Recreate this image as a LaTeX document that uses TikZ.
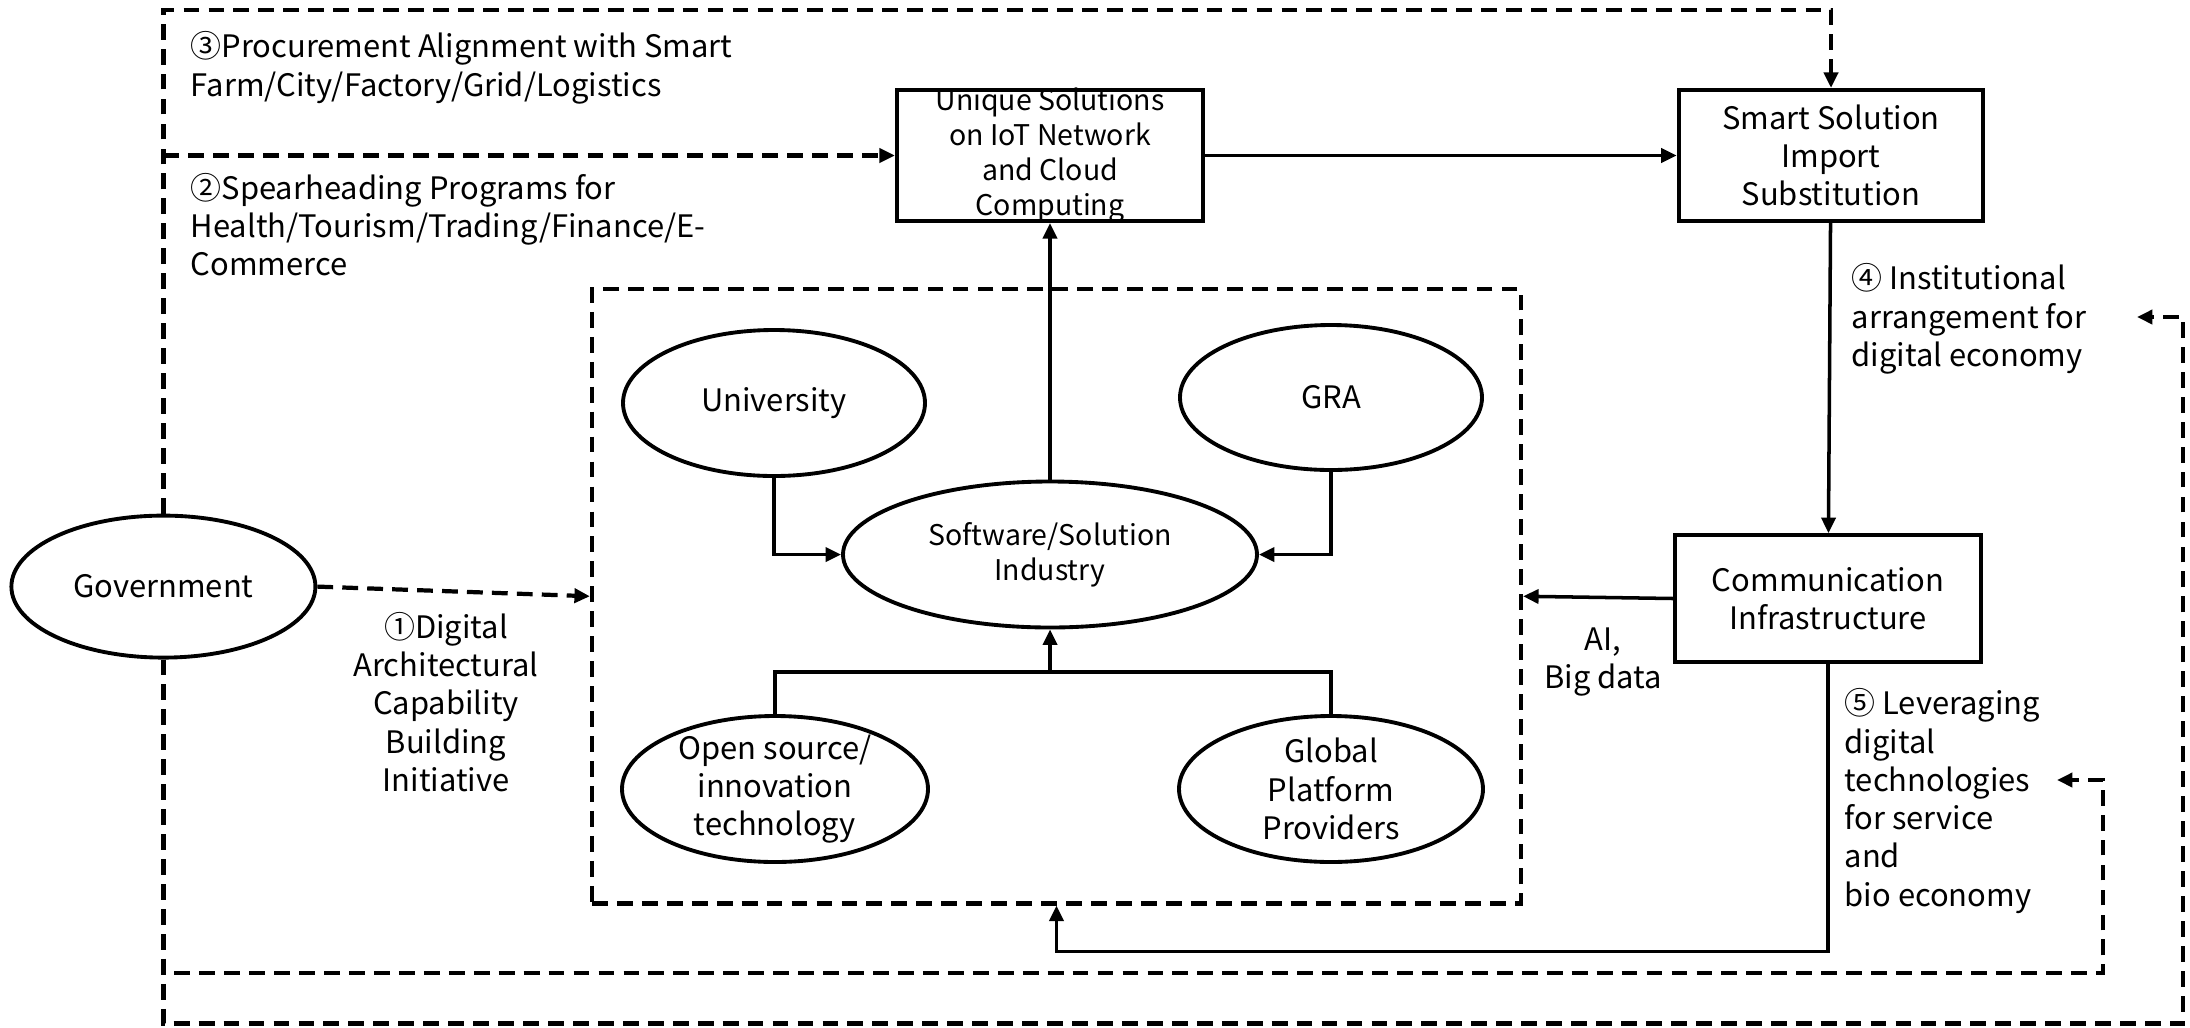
\documentclass[tikz,border=0pt]{standalone}
\usepackage{fontspec}
\setmainfont{Noto Sans CJK KR}
\usetikzlibrary{shapes.geometric,arrows.meta}

\tikzset{
  >={Triangle[length=4.4pt,width=4pt]},
  txt/.style={font=\fontsize{8.8}{10.9}\selectfont},
  smalltxt/.style={font=\fontsize{8.1}{9.95}\selectfont},
  box/.style={draw, line width=1.2pt, rectangle, inner sep=0pt, align=center, txt},
  blob/.style={draw, line width=1.1pt, ellipse, inner sep=-1.5pt, align=center, txt},
  conn/.style={line width=1pt, ->},
  dashconn/.style={line width=1.2pt, dash pattern=on 4.5pt off 2.6pt},
  lbl/.style={inner sep=0pt, txt}
}

\begin{document}
\begin{tikzpicture}[x=1cm, y=-1cm]
\useasboundingbox (0,0) rectangle (21.9,10.27);

% main blocks
\node[blob, minimum width=3.04cm, minimum height=1.42cm] (gov) at (1.634,5.866) {Government};
\node[box, smalltxt, inner ysep=-1.5pt, minimum width=3.06cm, minimum height=1.31cm] (unique) at (10.50,1.555) {Unique Solutions\\on IoT Network\\and Cloud\\Computing};
\node[box, minimum width=3.045cm, minimum height=1.31cm] (smart) at (18.31,1.555) {Smart Solution\\Import\\Substitution};
\node[box, minimum width=3.06cm, minimum height=1.265cm] (comm) at (18.28,5.985) {Communication\\Infrastructure};

% ecosystem
\node[draw, dashconn, inner sep=0pt, minimum width=9.29cm, minimum height=6.145cm] (cluster) at (10.565,5.9625) {};
\node[blob, smalltxt, minimum width=4.14cm, minimum height=1.46cm] (soft) at (10.50,5.545) {Software/Solution\\Industry};
\node[blob, minimum width=3.02cm, minimum height=1.46cm] (univ) at (7.74,4.03) {University};
\node[blob, minimum width=3.02cm, minimum height=1.45cm] (gra) at (13.31,3.975) {GRA};
\node[blob, minimum width=3.06cm, minimum height=1.46cm] (open) at (7.75,7.89) {Open source/\\innovation\\technology};
\node[blob, minimum width=3.04cm, minimum height=1.46cm] (global) at (13.31,7.89) {Global\\Platform\\Providers};

% solid connectors
\draw[conn] (soft.north) -- (unique.south);
\draw[conn] (unique) -- (smart);
\draw[conn] (smart) -- (comm);
\draw[conn] (comm.west) -- (cluster.east);
\draw[conn] (univ.south) |- (soft.west);
\draw[conn] (gra.south) |- (soft.east);

\coordinate (merge) at (10.50,6.718);
\draw[line width=1pt] (open.north) |- (merge) -| (global.north);
\draw[conn] (merge) -- (soft.south);

\coordinate (loopB) at (10.565,9.517);
\draw[conn] (comm.south) |- (loopB) -- (cluster.south);

% government programmes
\coordinate (topL) at (1.634,0.098);
\draw[dashconn, ->] (gov.north) -- (topL) -| (smart.north);
\draw[dashconn, ->] (gov.north |- unique.west) -- (unique.west);
\draw[dashconn, ->] (gov.east) -- (cluster.west);

\coordinate (lowA) at (1.634,9.73);
\coordinate (lowAr) at (21.03,7.80);
\coordinate (tipA) at (20.57,7.80);
\draw[dashconn, ->] (gov.south) -- (lowA) -| (lowAr) -- (tipA);

\coordinate (lowB) at (1.634,10.235);
\coordinate (lowBr) at (21.83,3.17);
\coordinate (tipB) at (21.37,3.17);
\draw[dashconn, ->] (gov.south) -- (lowB) -| (lowBr) -- (tipB);

% labels
\node[lbl, anchor=west, align=left] (procure) at (1.90,0.678) {③Procurement Alignment with Smart\\Farm/City/Factory/Grid/Logistics};
\node[lbl, anchor=west, align=left] (spear) at (1.90,2.245) {②Spearheading Programs for\\Health/Tourism/Trading/Finance/E-\\Commerce};
\node[lbl, align=center] (dacb) at (4.46,7.02) {①Digital\\Architectural\\Capability\\Building\\Initiative};
\node[lbl, anchor=west, align=left] (inst) at (18.51,3.19) {④ Institutional\\arrangement for\\digital economy};
\node[lbl, align=center] (aibig) at (16.03,6.617) {AI,\\Big data};
\node[lbl, anchor=west, align=left] (lever) at (18.44,8.01) {⑤ Leveraging\\digital\\technologies\\for service\\and\\bio economy};

\end{tikzpicture}
\end{document}
